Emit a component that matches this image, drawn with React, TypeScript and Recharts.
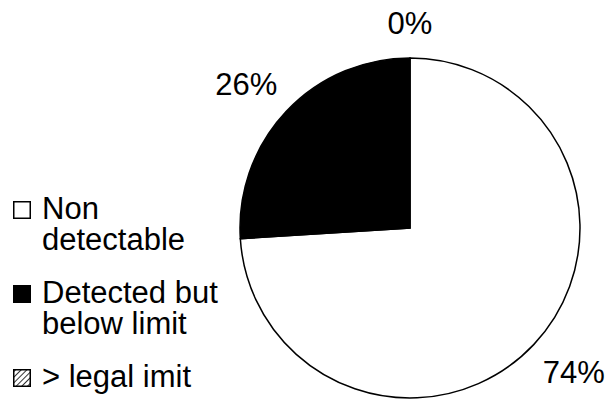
import React from "react";
import { PieChart, Pie, Cell, Legend } from "recharts";

// Share of samples by detection result
const categories = ["Non detectable", "Detected but below limit", "> legal imit"];
const shares = [74, 26, 0];
const legendLines = [["Non", "detectable"], ["Detected but", "below limit"], ["> legal imit"]];

const data = categories.map((name, i) => ({ name, value: shares[i] }));

const FONT = "'Liberation Sans', Arial, sans-serif";
const LABEL_SIZE = 31;
const LEGEND_SIZE = 31;
const LINE_H = 31;
const ITEM_GAP = 22;
const CX = 410;
const CY = 228;
const R = 170;

const fills = ["#ffffff", "#000000", "url(#hatch)"];

// Approximate Arial advance widths for label text
const charWidth = (c: string) => (c === "%" ? 0.889 : 0.556);
const textWidth = (s: string, size: number) =>
  s.split("").reduce((acc, c) => acc + charWidth(c), 0) * size;

// Data labels sit just outside the rim, box corner nearest the centre on the anchor
const renderLabel = (props: any) => {
  const { cx, cy, midAngle, outerRadius, value } = props;
  const rad = (Math.PI / 180) * midAngle;
  const dx = Math.cos(rad);
  const dy = -Math.sin(rad);
  const text = `${value}%`;
  const w = textWidth(text, LABEL_SIZE);
  const h = 0.72 * LABEL_SIZE;
  const px = cx + (outerRadius + 12) * dx;
  const py = cy + (outerRadius + 24) * dy;
  const clamp = (v: number) => Math.max(-1, Math.min(1, v * 3));
  const bx = px + (w / 2) * clamp(dx);
  const by = py + (h / 2) * clamp(dy);
  return (
    <text
      x={bx}
      y={by + h / 2}
      textAnchor="middle"
      fontFamily={FONT}
      fontSize={LABEL_SIZE}
      fill="#000"
    >
      {text}
    </text>
  );
};

const HatchPattern = ({ id }: { id: string }) => (
  <pattern id={id} width="4" height="4" patternUnits="userSpaceOnUse" patternTransform="rotate(45)">
    <rect width="4" height="4" fill="#fff" />
    <line x1="0" y1="0" x2="0" y2="4" stroke="#000" strokeWidth="1.6" />
  </pattern>
);

const LEGEND_TOP = 219;
const renderLegend = () => {
  let y = LEGEND_TOP;
  const rows: React.ReactNode[] = [];
  legendLines.forEach((lines, i) => {
    const first = y;
    rows.push(
      <rect
        key={`s${i}`}
        x={13.75}
        y={first - 17.25}
        width={16.5}
        height={16.5}
        fill={i === 0 ? "#fff" : i === 1 ? "#000" : "url(#lg-hatch)"}
        stroke="#000"
        strokeWidth={1.5}
      />
    );
    lines.forEach((l, j) => {
      rows.push(
        <text key={`t${i}-${j}`} x={42} y={y} fontFamily={FONT} fontSize={LEGEND_SIZE} fill="#000">
          {l}
        </text>
      );
      y += LINE_H;
    });
    y += ITEM_GAP;
  });
  return (
    <svg width={240} height={399} style={{ display: "block" }}>
      <defs>
        <HatchPattern id="lg-hatch" />
      </defs>
      {rows}
    </svg>
  );
};

export default function App() {
  return (
    <div style={{ position: "absolute", left: 0, top: 0, width: 611, height: 399, background: "#fff" }}>
      <PieChart width={611} height={399} margin={{ top: 0, right: 0, bottom: 0, left: 0 }}>
        <defs>
          <HatchPattern id="hatch" />
        </defs>
        <Pie
          data={data}
          dataKey="value"
          nameKey="name"
          cx={CX}
          cy={CY}
          outerRadius={R}
          startAngle={90}
          endAngle={-270}
          stroke="#000"
          strokeWidth={1.5}
          label={renderLabel}
          labelLine={false}
          isAnimationActive={false}
        >
          {data.map((d, i) => (
            <Cell key={d.name} fill={fills[i]} />
          ))}
        </Pie>
        <Legend
          content={renderLegend}
          layout="vertical"
          wrapperStyle={{ position: "absolute", left: 0, top: 0, width: 240, height: 399 }}
        />
      </PieChart>
    </div>
  );
}
